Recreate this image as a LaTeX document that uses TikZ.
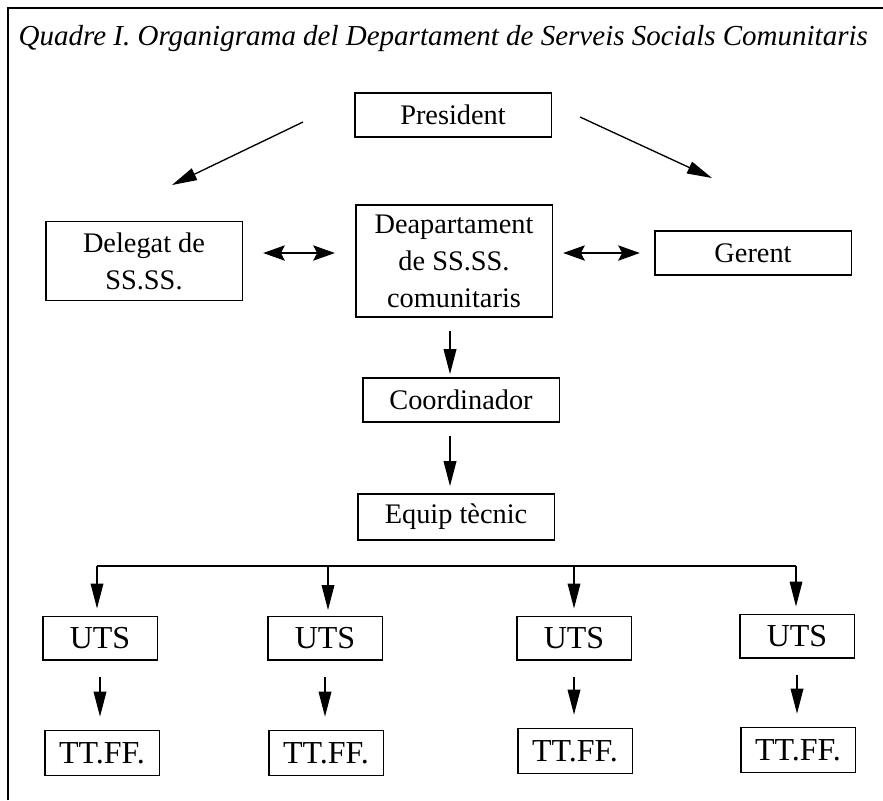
\documentclass[tikz,border=0pt]{standalone}
\usepackage{fontspec}
\setmainfont{Liberation Serif}
\usepackage{tikz}
\usetikzlibrary{arrows.meta}

\begin{document}
\begin{tikzpicture}
            [x=0.3pt,y=-0.3pt,
             every node/.style={font=\fontsize{8.5}{11.1}\selectfont},
             box/.style={draw,line width=0.5pt,inner sep=0pt,align=center,minimum width=59pt,minimum height=13.2pt},
             smallbox/.style={box,font=\fontsize{9.6}{11}\selectfont,minimum width=34.4pt,minimum height=13pt},
             arr/.style={line width=0.4pt,-{Triangle[length=7.5pt,width=3.8pt]}},
             dblarr/.style={line width=0.4pt,{Stealth[length=6.5pt,width=4.6pt,inset=1.2pt]}-{Stealth[length=6.5pt,width=4.6pt,inset=1.2pt]}}]
            \useasboundingbox (0,0) rectangle (883,800);

            % frame and title
            \draw[line width=0.8pt] (8,800) -- (8,8) -- (883,8);
            \node[anchor=base west,inner sep=0pt,font=\fontsize{8.7}{10}\selectfont\itshape] (title) at (18,45)
                {Quadre I. Organigrama del Departament de Serveis Socials Comunitaris};

            \node[box] (pres) at (453,115) {President};
            \node[box,minimum height=23.7pt] (deleg) at (144,261) {Delegat de\\SS.SS.};
            \node[box,minimum height=33.6pt] (dept) at (454,261) {Deapartament\\de SS.SS.\\comunitaris};
            \node[box] (gerent) at (753,253) {Gerent};
            \node[box] (coord) at (461,400) {Coordinador};
            \node[box,minimum height=13.8pt] (equip) at (456,517) {Equip tècnic};

            \node[smallbox] (uts1) at (100,638) {UTS};
            \node[smallbox] (uts2) at (325,638) {UTS};
            \node[smallbox] (uts3) at (574,638) {UTS};
            \node[smallbox] (uts4) at (797,636) {UTS};
            \node[smallbox,minimum height=13.5pt] (tt1) at (102,753) {TT.FF.};
            \node[smallbox,minimum height=13.5pt] (tt2) at (326,753) {TT.FF.};
            \node[smallbox,minimum height=13.5pt] (tt3) at (575,751) {TT.FF.};
            \node[smallbox,minimum height=13.5pt] (tt4) at (798,750) {TT.FF.};

            % president arrows
            \coordinate (pl) at (303,122);
            \coordinate (dl) at (172,185);
            \coordinate (pr) at (580,117);
            \coordinate (gr) at (712,178);
            \draw[arr] (pl) -- (dl);
            \draw[arr] (pr) -- (gr);

            % both ways
            \draw[dblarr,shorten <=6pt,shorten >=6pt] ([shift={(0,-8)}]deleg.east) -- ([shift={(0,-8)}]dept.west);
            \draw[dblarr,shorten <=3pt,shorten >=4.2pt] ([shift={(0,-8)}]dept.east) -- (gerent.west);

            % down the chain
            \draw[arr,shorten <=3.9pt,shorten >=0.9pt] (dept.south) ++(-4,0) coordinate (ds) (ds) -- (ds |- coord.north);
            \draw[arr,shorten <=3.9pt,shorten >=2.1pt] (coord.south) ++(-11,0) coordinate (cs) (cs) -- (cs |- equip.north);

            % branch line
            \coordinate (bl) at (97,566);
            \coordinate (br) at (796,566);
            \draw[line width=0.4pt] (bl) -- (br);
            \draw[arr,shorten >=2.1pt] (bl) -- (bl |- uts1.north);
            \draw[arr,shorten >=2.1pt] (328,566) -- (328,617);
            \draw[arr,shorten >=2.1pt] (574,566) -- (uts3.north);
            \draw[arr,shorten >=2.1pt] (br) -- (br |- uts4.north);

            % uts to tt.ff.
            \draw[arr,shorten <=4.8pt,shorten >=3.9pt] (uts1.south) -- (uts1.south |- tt1.north);
            \draw[arr,shorten <=4.8pt,shorten >=3.9pt] (uts2.south) -- (uts2.south |- tt2.north);
            \draw[arr,shorten <=4.8pt,shorten >=3.9pt] (uts3.south) -- (uts3.south |- tt3.north);
            \draw[arr,shorten <=4.8pt,shorten >=3.9pt] (uts4.south) -- (uts4.south |- tt4.north);
        \end{tikzpicture}
\end{document}
